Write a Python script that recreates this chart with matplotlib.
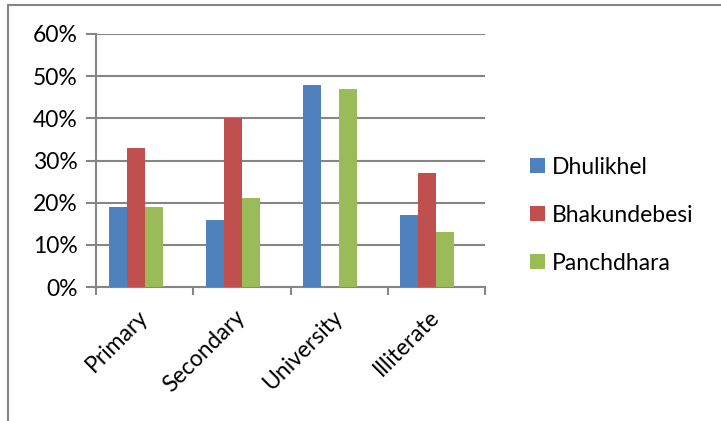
import matplotlib
matplotlib.use("Agg")
import matplotlib.pyplot as plt
import numpy as np
from matplotlib.lines import Line2D

categories = ["Primary", "Secondary", "University", "Illiterate"]
series_names = ["Dhulikhel", "Bhakundebesi", "Panchdhara"]
dhulikhel = [19, 16, 48, 17]
bhakundebesi = [33, 40, 0, 27]
panchdhara = [19, 21, 47, 13]
yticks = [0, 10, 20, 30, 40, 50, 60]
colors = ["#4F81BD", "#C0504D", "#9BBB59"]

plt.rcParams['font.family'] = ['Lato', 'DejaVu Sans']
FS = 16.5
fig = plt.figure(figsize=(7.21, 4.21), dpi=100)
W, H = 721, 421
ax = fig.add_axes([96 / W, 1 - 287 / H, 389 / W, 253 / H])

grey = "#868686"
x = np.arange(len(categories))
bw = 0.185
n_slots = 4  # the source chart reserves room for a fourth (empty) series
for i, (vals, name) in enumerate(zip([dhulikhel, bhakundebesi, panchdhara], series_names)):
    ax.bar(x + (i - (n_slots - 1) / 2) * bw, vals, width=bw, color=colors[i], label=name,
           zorder=3, edgecolor="none")

ax.set_xlim(-0.5, len(categories) - 0.5)
ax.set_ylim(0, 60)
ax.set_yticks(yticks)
ax.set_yticklabels([f"{v}%" for v in yticks], fontsize=FS)
ax.yaxis.grid(True, color=grey, linewidth=1.5, zorder=0)
ax.set_axisbelow(True)
ax.tick_params(axis='y', length=7, width=1.5, color=grey, pad=6)

ax.set_xticks(np.arange(-0.5, len(categories), 1.0))
ax.set_xticklabels([])
ax.tick_params(axis='x', length=6, width=1.5, color=grey)
for i, c in enumerate(categories):
    ax.annotate(c, xy=(i, 0), xycoords=('data', 'axes fraction'),
                xytext=(-5.5, -14), textcoords='offset points',
                rotation=45, ha='right', va='top', rotation_mode='anchor',
                fontsize=FS)

for s in ["top", "right"]:
    ax.spines[s].set_visible(False)
for s in ["left", "bottom"]:
    ax.spines[s].set_color(grey)
    ax.spines[s].set_linewidth(1.5)

leg = fig.legend(loc="upper left", bbox_to_anchor=(509 / W, 1 - 136 / H),
                 frameon=False, fontsize=FS, handlelength=0.65, handleheight=0.65,
                 labelspacing=1.18, handletextpad=0.3)

fig.add_artist(Line2D([8 / W, 8 / W], [0, 1 - 5 / H], transform=fig.transFigure,
                      color=grey, linewidth=1.5))
fig.add_artist(Line2D([8 / W, 720 / W], [1 - 5 / H, 1 - 5 / H], transform=fig.transFigure,
                      color=grey, linewidth=1.5))

fig.savefig("out.png", dpi=100)
